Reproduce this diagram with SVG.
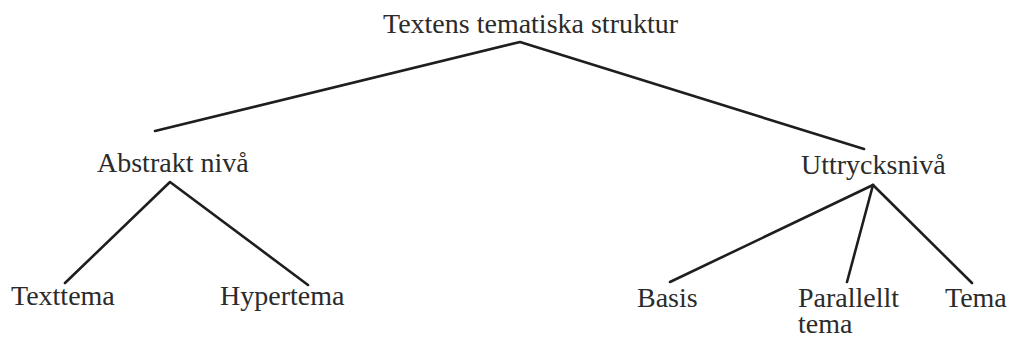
<svg xmlns="http://www.w3.org/2000/svg" width="1011" height="338" viewBox="0 0 1011 338">
  <style>
    .lbl { font-family: "Liberation Serif", "Times New Roman", serif; font-size: 28px; fill: #2b2b2b; }
    .edge { stroke: #1e1e1e; stroke-width: 2.6; fill: none; stroke-linecap: round; stroke-linejoin: round; }
  </style>
  <rect width="1011" height="338" fill="#ffffff"/>
  <g id="connectors">
    <polyline class="edge" points="155,131 520,42 864,149"/>
    <polyline class="edge" points="65,283 170,182 308,285"/>
    <line class="edge" x1="873" y1="185" x2="670" y2="282"/>
    <line class="edge" x1="873" y1="185" x2="847" y2="282"/>
    <line class="edge" x1="873" y1="185" x2="972" y2="283"/>
  </g>
  <g id="root"><text class="lbl" x="383" y="33">Textens tematiska struktur</text></g>
  <g id="abstrakt"><text class="lbl" x="97" y="172">Abstrakt nivå</text></g>
  <g id="uttryck"><text class="lbl" x="801" y="174">Uttrycksnivå</text></g>
  <g id="texttema"><text class="lbl" x="11" y="305">Texttema</text></g>
  <g id="hypertema"><text class="lbl" x="220" y="305">Hypertema</text></g>
  <g id="basis"><text class="lbl" x="637" y="307">Basis</text></g>
  <g id="parallellt"><text class="lbl" x="798" y="307">Parallellt</text><text class="lbl" x="798" y="333">tema</text></g>
  <g id="tema"><text class="lbl" x="945" y="307">Tema</text></g>
</svg>
